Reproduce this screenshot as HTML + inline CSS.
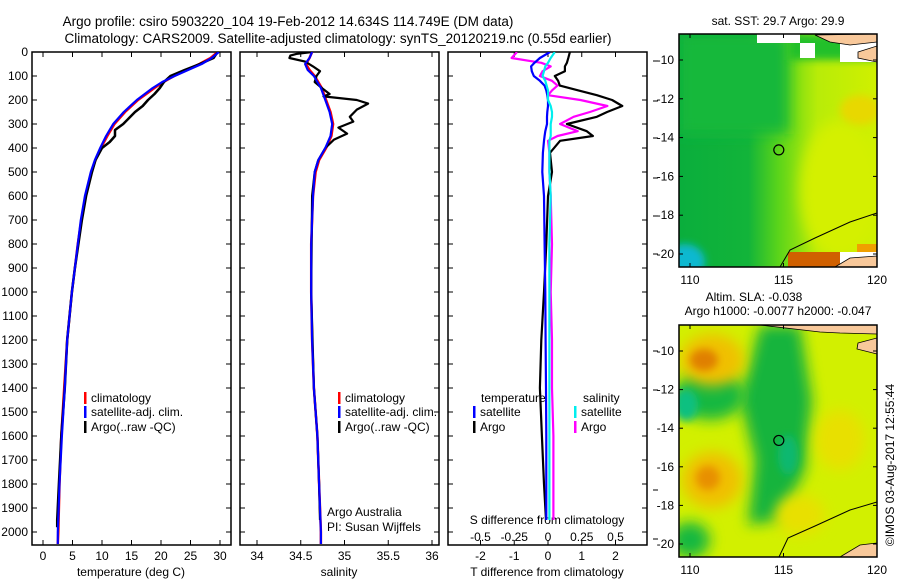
<!DOCTYPE html>
<html><head><meta charset="utf-8"><style>
html,body{margin:0;padding:0;background:#fff;}
svg{display:block;font-family:"Liberation Sans",Arial,sans-serif;}
</style></head><body>
<svg id="fig" width="900" height="580" viewBox="0 0 900 580" xmlns="http://www.w3.org/2000/svg">
<defs>
<filter id="blur6" x="-50%" y="-50%" width="200%" height="200%"><feGaussianBlur stdDeviation="7"/></filter>
<filter id="blur3" x="-50%" y="-50%" width="200%" height="200%"><feGaussianBlur stdDeviation="4"/></filter>
<clipPath id="clipM1"><rect x="679" y="34" width="198" height="233"/></clipPath>
<clipPath id="clipM2"><rect x="679" y="325" width="198" height="232"/></clipPath>
<clipPath id="clipP1"><rect x="32" y="52" width="199" height="493"/></clipPath>
<clipPath id="clipP2"><rect x="240" y="52" width="199" height="493"/></clipPath>
<clipPath id="clipP3"><rect x="448" y="52" width="199" height="493"/></clipPath>
<linearGradient id="g1" x1="0" y1="0" x2="1" y2="0">
<stop offset="0" stop-color="#0aae3c"/><stop offset="0.35" stop-color="#12b43a"/><stop offset="0.5" stop-color="#5ad41a"/><stop offset="0.7" stop-color="#b8ec08"/><stop offset="1" stop-color="#d0f000"/></linearGradient>
</defs>
<text x="288" y="26" font-size="13.5" text-anchor="middle">Argo profile: csiro 5903220_104 19-Feb-2012 14.634S 114.749E (DM data)</text>
<text x="338" y="43" font-size="13.5" text-anchor="middle">Climatology: CARS2009. Satellite-adjusted climatology: synTS_20120219.nc (0.55d earlier)</text>
<g id="plots"></g>
<g id="maps"></g>
<text transform="translate(894,465) rotate(-90)" font-size="12" text-anchor="middle">©IMOS 03-Aug-2017 12:55:44</text>
</svg>
<script>
// ---- data ----
const tempDepth = [0,25,50,75,100,125,150,200,250,300,350,400,450,500,600,700,800,900,1000,1200,1400,1600,1800,2000,2050];
const tempClim  = [29.6,28.4,26.5,24.4,22.2,20.4,18.9,16.1,13.9,12.1,10.9,9.8,8.9,8.2,7.2,6.5,5.9,5.4,4.9,4.1,3.6,3.1,2.8,2.6,2.5];
const tempSat   = [29.8,28.6,26.9,24.6,22.3,20.2,18.6,15.9,13.7,11.9,10.7,9.7,8.8,8.1,7.1,6.4,5.9,5.4,4.9,4.1,3.7,3.2,2.8,2.5,2.5];
const argoTDepth = [0,25,50,75,100,125,150,175,200,225,250,275,300,325,350,375,400,450,500,600,700,800,900,1000,1200,1400,1600,1800,1950,1980];
const argoTemp   = [29.6,28.9,26.6,24.0,21.6,20.5,19.8,18.9,17.8,16.9,15.6,14.6,13.6,12.2,12.2,11.3,10.0,8.9,8.3,7.3,6.6,6.0,5.4,4.9,4.1,3.7,3.1,2.7,2.4,2.4];

const salDepth = [0,25,50,75,100,150,200,250,300,350,400,450,500,600,800,1000,1200,1400,1600,1800,2000,2050];
const salClim  = [34.63,34.60,34.56,34.60,34.66,34.74,34.79,34.84,34.87,34.85,34.79,34.71,34.67,34.64,34.62,34.62,34.63,34.65,34.69,34.71,34.73,34.73];
const salSat   = [34.63,34.60,34.55,34.58,34.65,34.73,34.78,34.83,34.86,34.84,34.78,34.70,34.66,34.64,34.62,34.62,34.63,34.65,34.69,34.71,34.73,34.73];
const argoSDepth = [0,8,15,25,40,60,80,100,125,150,175,185,200,215,240,270,290,315,340,365,400,450,500,600,1000,1400,1600,1800,1950];
const argoSal    = [34.63,34.45,34.38,34.37,34.55,34.64,34.72,34.68,34.66,34.74,34.83,34.76,35.14,35.27,35.14,35.06,35.10,34.93,35.03,34.88,34.78,34.70,34.66,34.63,34.62,34.65,34.69,34.71,34.72];

const dDepth = [0,25,45,60,80,100,120,140,160,180,200,225,250,270,300,330,350,370,420,500,600,800,1000,1200,1400,1600,1800,1950];
const dTargo = [0.65,0.60,0.56,0.50,0.50,0.20,0.30,0.35,0.90,1.45,1.90,2.20,1.75,1.45,0.56,1.15,1.33,0.36,0.06,0.12,0.0,-0.05,-0.12,-0.2,-0.24,-0.18,-0.12,-0.06];
const dTsat  = [0.06,-0.24,-0.40,-0.50,-0.48,-0.42,-0.24,-0.10,-0.05,-0.02,0.0,0.0,-0.02,-0.03,-0.03,-0.08,-0.10,-0.12,-0.15,-0.17,-0.12,-0.10,-0.08,-0.07,-0.06,-0.05,-0.05,-0.05];
const dSsat  = [0.05,0.02,0.0,-0.02,-0.03,-0.04,-0.02,-0.01,0.0,0.0,0.0,0.02,0.03,0.03,0.02,0.02,0.02,0.01,0.01,0.01,0.02,0.01,0.01,0.01,0.01,0.01,0.01,0.01];
const dSargo = [-0.23,-0.27,-0.05,0.02,-0.04,-0.06,0.03,0.07,0.03,0.0,0.24,0.44,0.31,0.19,0.09,0.22,0.07,0.0,0.01,0.01,0.02,0.03,0.02,0.03,0.03,0.04,0.04,0.04];

const depthTicks = [0,100,200,300,400,500,600,700,800,900,1000,1100,1200,1300,1400,1500,1600,1700,1800,1900,2000];
const tempTicks = [0,5,10,15,20,25,30];
const salTicks = [34,34.5,35,35.5,36];
const salTickLabels = ["34","34.5","35","35.5","36"];
const dTTicks = [-2,-1,0,1,2];
const dSTicks = [-0.5,-0.25,0,0.25,0.5];
const dSTickLabels = ["-0.5","-0.25","0","0.25","0.5"];
const lonTicks = [110,115,120];
const latTicks = [-10,-12,-14,-16,-18,-20];

// ---- scales ----
const yD = d => 52 + d*0.24;
const xT = t => 43 + t*5.9;
const xS = s => 257 + (s-34)*87.5;
const xDT = v => 548 + v*33.75;
const xDS = v => 548 + v*135;
const NS = "http://www.w3.org/2000/svg";
const plots = document.getElementById('plots');
function el(tag, attrs, parent){const e=document.createElementNS(NS,tag);for(const k in attrs)e.setAttribute(k,attrs[k]);(parent||plots).appendChild(e);return e;}
function txt(x,y,s,size,anchor,parent){const t=el('text',{x:x,y:y,'font-size':size,'text-anchor':anchor||'start'},parent);t.textContent=s;return t;}
function line(depths, vals, sx, color, w, name, clip){
  const pts = depths.map((d,i)=>sx(vals[i]).toFixed(1)+','+yD(d).toFixed(1)).join(' ');
  const p = el('polyline',{points:pts,fill:'none',stroke:color,'stroke-width':w,'stroke-linejoin':'round','clip-path':'url(#'+clip+')'});
  
  
  return p;
}
function panel(x0, name){
  const r = el('rect',{x:x0,y:52,width:199,height:493,fill:'none',stroke:'#000','stroke-width':1.5});
  
  
  depthTicks.forEach(d=>{
    el('line',{x1:x0,x2:x0+5,y1:yD(d),y2:yD(d),stroke:'#000'});
    el('line',{x1:x0+199,x2:x0+194,y1:yD(d),y2:yD(d),stroke:'#000'});
  });
}
depthTicks.forEach(d=>{
  const t = txt(28, yD(d)+4, String(d), 12, 'end');
  
  
});
panel(32,'temperature-panel'); panel(240,'salinity-panel'); panel(448,'difference-panel');
tempTicks.forEach(v=>{
  el('line',{x1:xT(v),x2:xT(v),y1:545,y2:540,stroke:'#000'}); el('line',{x1:xT(v),x2:xT(v),y1:52,y2:57,stroke:'#000'});
  const t = txt(xT(v),560,String(v),12,'middle');
  
  
});
salTicks.forEach((v,i)=>{
  el('line',{x1:xS(v),x2:xS(v),y1:545,y2:540,stroke:'#000'}); el('line',{x1:xS(v),x2:xS(v),y1:52,y2:57,stroke:'#000'});
  const t = txt(xS(v),560,salTickLabels[i],12,'middle');
  
  
});
dTTicks.forEach(v=>{
  el('line',{x1:xDT(v),x2:xDT(v),y1:545,y2:540,stroke:'#000'}); el('line',{x1:xDT(v),x2:xDT(v),y1:52,y2:57,stroke:'#000'});
  const t = txt(xDT(v),560,String(v),12,'middle');
  
  
});
dSTicks.forEach((v,i)=>{
  const t = txt(xDS(v),541,dSTickLabels[i],12,'middle');
  
  
});
[61,101,138,178,216,254,351,390,490,539].forEach(y=>el('line',{x1:653,x2:658,y1:y,y2:y,stroke:'#000'}));
[[131,'temperature (deg C)','x-axis-title-temperature'],[339,'salinity','x-axis-title-salinity'],[547,'T difference from climatology','x-axis-title-tdiff']].forEach(a=>{
  const t = txt(a[0],576,a[1],12,'middle');
  
  
});
const st = txt(547,524,'S difference from climatology',12,'middle');


const aa = txt(327,516,'Argo Australia',12,'start');


const pi = txt(327,531,'PI: Susan Wijffels',12,'start');



line(tempDepth,tempClim,xT,'#f00',2.5,'temp-climatology-line','clipP1');
line(argoTDepth,argoTemp,xT,'#000',2.5,'temp-argo-line','clipP1');
line(tempDepth,tempSat,xT,'#00f',2.2,'temp-satellite-line','clipP1');
line(salDepth,salClim,xS,'#f00',2.5,'sal-climatology-line','clipP2');
line(argoSDepth,argoSal,xS,'#000',2.2,'sal-argo-line','clipP2');
line(salDepth,salSat,xS,'#00f',2.2,'sal-satellite-line','clipP2');
line(dDepth,dSargo,xDS,'#f0f',2.2,'sdiff-argo-line','clipP3');
line(dDepth,dTargo,xDT,'#000',2.2,'tdiff-argo-line','clipP3');
line(dDepth,dTsat,xDT,'#00f',2.2,'tdiff-satellite-line','clipP3');
line(dDepth,dSsat,xDS,'#0ee',2.2,'sdiff-satellite-line','clipP3');

function legend(x,y,color,label,name){
  const g = el('g',{});
  
  
  el('rect',{x:x,y:y-10,width:2.5,height:12,fill:color},g);
  txt(x+7,y,label,12,'start',g);
}
legend(84,402,'#f00','climatology','legend-temp-climatology');
legend(84,416,'#00f','satellite-adj. clim.','legend-temp-satellite');
legend(84,431,'#000','Argo(..raw -QC)','legend-temp-argo');
legend(338,402,'#f00','climatology','legend-sal-climatology');
legend(338,416,'#00f','satellite-adj. clim.','legend-sal-satellite');
legend(338,431,'#000','Argo(..raw -QC)','legend-sal-argo');
const lt = txt(481,402,'temperature',12,'start');  
const ls = txt(583,402,'salinity',12,'start');  
legend(473,416,'#00f','satellite','legend-tdiff-satellite');
legend(473,431,'#000','Argo','legend-tdiff-argo');
legend(574,416,'#0ee','satellite','legend-sdiff-satellite');
legend(574,431,'#f0f','Argo','legend-sdiff-argo');

// ---- maps ----
const maps = document.getElementById('maps');
function mapFrame(top, bottom, latTop, latBottom, name){
  const lonX = l => 690 + (l-110)*18.7;
  const latY = la => latTop + (la - (-10))*(latBottom-latTop)/(-10);
  const r = el('rect',{x:679,y:top,width:198,height:bottom-top,fill:'none',stroke:'#000','stroke-width':1.5},maps);
  
  
  lonTicks.forEach(l=>{
    el('line',{x1:lonX(l),x2:lonX(l),y1:bottom,y2:bottom-4,stroke:'#000'},maps);
    el('line',{x1:lonX(l),x2:lonX(l),y1:top,y2:top+4,stroke:'#000'},maps);
    const t = txt(lonX(l),bottom+17,String(l),12,'middle',maps);
     
  });
  latTicks.forEach(la=>{
    el('line',{x1:679,x2:683,y1:latY(la),y2:latY(la),stroke:'#000'},maps);
    el('line',{x1:877,x2:873,y1:latY(la),y2:latY(la),stroke:'#000'},maps);
    const t = txt(674,latY(la)+4,String(la),12,'end',maps);
     
  });
  const c = el('circle',{cx:lonX(114.749),cy:latY(-14.634),r:5,fill:'none',stroke:'#000','stroke-width':1.2},maps);
  
  
}
(function(){
  const g = el('g',{'clip-path':'url(#clipM1)'},maps);
   
  el('rect',{x:679,y:34,width:198,height:233,fill:'url(#g1)'},g);
  el('rect',{x:679,y:34,width:110,height:100,fill:'#18b83a',filter:'url(#blur6)'},g);
  el('ellipse',{cx:840,cy:190,rx:40,ry:70,fill:'#d4f000',filter:'url(#blur6)'},g);
  el('ellipse',{cx:860,cy:110,rx:20,ry:15,fill:'#e8d800',filter:'url(#blur3)'},g);
  el('ellipse',{cx:685,cy:262,rx:20,ry:18,fill:'#10b8d0',filter:'url(#blur3)'},g);
  el('rect',{x:788,y:34,width:89,height:26,fill:'#22c02a',filter:'url(#blur3)'},g);
  el('rect',{x:757,y:34,width:43,height:9,fill:'#fff'},g);
  el('rect',{x:800,y:43,width:15,height:15,fill:'#fff'},g);
  el('rect',{x:840,y:34,width:37,height:28,fill:'#fff'},g);
  el('path',{d:'M815,35 L877,34 L877,42 L850,45 L830,42 Z',fill:'#f8c89a',stroke:'#000','stroke-width':0.8},g);
  el('path',{d:'M858,52 L877,46 L877,62 L858,58 Z',fill:'#f8c89a',stroke:'#000','stroke-width':0.8},g);
  el('rect',{x:857,y:244,width:20,height:8,fill:'#f0a000'},g);
  el('rect',{x:788,y:252,width:52,height:15,fill:'#d06000'},g);
  el('rect',{x:840,y:252,width:37,height:15,fill:'#fff'},g);
  el('path',{d:'M835,267 L850,258 L877,256 L877,267 Z',fill:'#f8c89a',stroke:'#000','stroke-width':0.8},g);
  el('path',{d:'M780,267 L790,250 L815,238 L850,222 L877,213',fill:'none',stroke:'#000','stroke-width':1},g);
})();
mapFrame(34,267,60,254,'sst-map-frame');
const m1t = txt(778,25,'sat. SST: 29.7 Argo: 29.9',12,'middle',maps);
 
(function(){
  const g = el('g',{'clip-path':'url(#clipM2)'},maps);
   
  el('rect',{x:679,y:325,width:198,height:232,fill:'#d2f000'},g);
  el('path',{d:'M760,325 L800,325 L812,400 L805,470 L780,520 L748,525 L755,460 L740,400 Z',fill:'#12b43c',filter:'url(#blur6)'},g);
  el('ellipse',{cx:710,cy:395,rx:35,ry:25,fill:'#18b840',filter:'url(#blur6)'},g);
  el('ellipse',{cx:686,cy:405,rx:12,ry:16,fill:'#10c080',filter:'url(#blur3)'},g);
  el('ellipse',{cx:788,cy:455,rx:10,ry:20,fill:'#10b870',filter:'url(#blur3)'},g);
  el('ellipse',{cx:712,cy:360,rx:32,ry:26,fill:'#f0c000',filter:'url(#blur6)'},g);
  el('ellipse',{cx:704,cy:360,rx:14,ry:11,fill:'#e08000',filter:'url(#blur3)'},g);
  el('ellipse',{cx:712,cy:480,rx:30,ry:28,fill:'#f0c000',filter:'url(#blur6)'},g);
  el('ellipse',{cx:708,cy:478,rx:12,ry:12,fill:'#e89000',filter:'url(#blur3)'},g);
  el('ellipse',{cx:690,cy:540,rx:20,ry:18,fill:'#18b840',filter:'url(#blur6)'},g);
  el('ellipse',{cx:840,cy:440,rx:25,ry:30,fill:'#e8e000',filter:'url(#blur6)'},g);
  el('ellipse',{cx:800,cy:515,rx:25,ry:20,fill:'#e8e000',filter:'url(#blur6)'},g);
  el('path',{d:'M760,325 L877,325 L877,334 L840,333 L820,332 Z',fill:'#f8c89a',stroke:'#000','stroke-width':0.8},g);
  el('path',{d:'M858,343 L877,338 L877,354 L857,349 Z',fill:'#f8c89a',stroke:'#000','stroke-width':0.8},g);
  el('path',{d:'M840,557 L860,545 L877,543 L877,557 Z',fill:'#f8c89a',stroke:'#000','stroke-width':0.8},g);
  el('path',{d:'M779,557 L788,538 L815,526 L850,510 L877,502',fill:'none',stroke:'#000','stroke-width':1},g);
})();
mapFrame(325,557,351,544,'sla-map-frame');
const m2a = txt(754,301,'Altim. SLA: -0.038',12,'middle',maps);
 
const m2b = txt(778,315,'Argo h1000: -0.0077 h2000: -0.047',12,'middle',maps);
 
</script>
</body></html>
